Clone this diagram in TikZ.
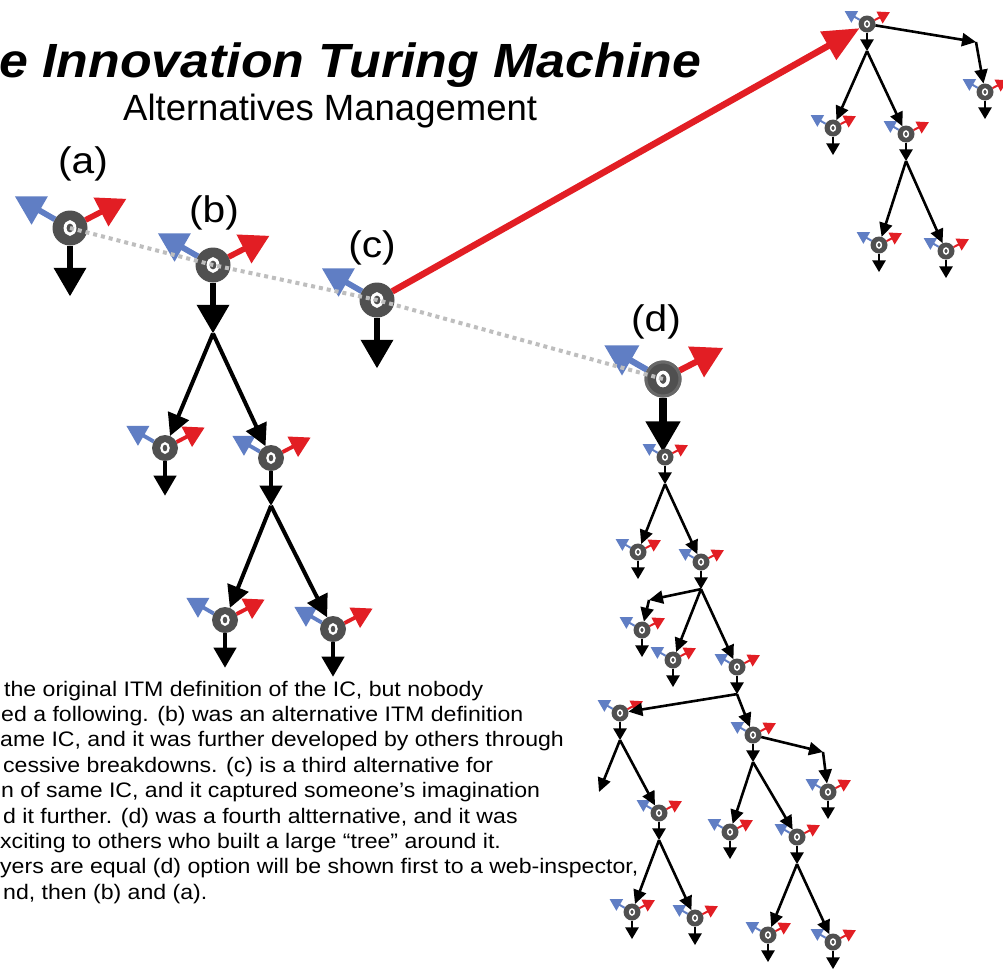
\documentclass[tikz,border=0pt]{standalone}
\usepackage{fontspec}
\setmainfont{Liberation Sans}
\usetikzlibrary{arrows.meta}
\definecolor{itmgray}{RGB}{80,80,80}
\definecolor{itmring}{RGB}{104,104,104}
\definecolor{itmblue}{RGB}{96,126,196}
\definecolor{itmred}{RGB}{226,30,36}
\definecolor{dotgray}{RGB}{190,190,190}
\newcommand\hs[1]{\scalebox{1.1}[1]{#1}}
\newcommand\itmbody[1]{%
  \pgfmathsetmacro\itmR{#1}%
  \pgfmathsetmacro\itmDiam{2*\itmR}%
  \pgfmathsetmacro\itmArm{4.2*\itmR-10}%
  \pgfmathsetmacro\itmDn{4.6*\itmR-12}%
  \pgfmathsetmacro\itmHL{1.9*\itmR-4.5}%
  \pgfmathsetmacro\itmHW{2.0*\itmR-4}%
  \pgfmathsetmacro\itmLD{0.5*\itmR-2}%
  \pgfmathsetmacro\itmLA{0.42*\itmR-1.6}%
  \pgfmathsetmacro\itmLO{0.17*\itmR}%
  \pgfmathsetmacro\itmOX{0.28*\itmR}%
  \pgfmathsetmacro\itmOY{0.36*\itmR}%
  \pgfmathsetmacro\itmBx{-0.87*\itmArm}%
  \pgfmathsetmacro\itmBy{-0.5*\itmArm}%
  \pgfmathsetmacro\itmRx{0.89*\itmArm}%
  \pgfmathsetmacro\itmRy{-0.46*\itmArm}%
  \node[itmcirc, minimum size=\itmDiam pt] (-c) at (0,0) {};
  \coordinate (-t) at (0,\itmDn);
  \coordinate (-bl) at (\itmBx,\itmBy);
  \coordinate (-rd) at (\itmRx,\itmRy);
  \draw[color=itmblue, line width=\itmLA pt, -{Triangle[length=\itmHL pt, width=\itmHW pt]}] (-c) -- (-bl);
  \draw[color=black, line width=\itmLD pt, -{Triangle[length=\itmHL pt, width=\itmHW pt]}] (-c) -- (-t);
  \draw[white, line width=\itmLO pt] (0,0) ellipse [x radius=\itmOX, y radius=\itmOY];
}
\newcommand\itmredarm{%
  \draw[color=itmred, line width=\itmLA pt, -{Triangle[length=\itmHL pt, width=\itmHW pt]}] (-c) -- (-rd);
}
\tikzset{
  itmcirc/.style={circle, fill=itmgray, inner sep=0pt, outer sep=0pt},
  pics/itm/.style={code={\itmbody{#1}\itmredarm}},
  pics/itmnr/.style={code={\itmbody{#1}}},
  tarL/.style={black, line width=4pt, -{Triangle[length=22pt, width=22pt]}},
  tarS/.style={black, line width=2.6pt, -{Triangle[length=14pt, width=13pt]}},
  bigred/.style={itmred, line width=6.5pt, -{Triangle[length=36pt, width=31pt]}},
  dotline/.style={dotgray, line width=4pt, dash pattern=on 4pt off 4pt},
  lab/.style={inner sep=0pt, font=\fontsize{37}{42}\selectfont},
  ptext/.style={anchor=base west, inner sep=0pt, font=\fontsize{21}{25.4}\selectfont},
}
\begin{document}
\begin{tikzpicture}[x=1pt, y=-1pt]
\useasboundingbox (0,0) rectangle (1003,969);
\clip (0,0) rectangle (1003,969);
\fill[white] (0,0) rectangle (1003,969);

% titles
\node[anchor=base west, inner sep=0pt, font=\fontsize{48}{54}\selectfont\bfseries\itshape] (title) at (-1,77) {\scalebox{1.08}[1]{e Innovation Turing Machine}};
\node[anchor=base west, inner sep=0pt, font=\fontsize{36.5}{42}\selectfont] (sub) at (123,120) {Alternatives Management};

% labels
\node[lab] (la) at (83,164) {\hs{(a)}};
\node[lab] (lb) at (214,213) {\hs{(b)}};
\node[lab] (lc) at (372,248) {\hs{(c)}};
\node[lab] (ld) at (656,322) {\hs{(d)}};

% main alternatives
\pic (a) at (70,228) {itm=17.5};
\pic (b) at (213,265) {itm=17.5};
\pic (c) at (377,300) {itmnr=17.5};
\pic (d) at (663,379) {itm=18.5};
\draw[itmring, line width=3pt] (d-c.center) circle (17);
\draw[white, line width=3.1pt] (d-c.center) ellipse [x radius=5.2, y radius=6.6];

% tree (b)
\pic (b1) at (165,448) {itm=13};
\pic (b2) at (271,458) {itm=13};
\pic (b21) at (225,620) {itm=13};
\pic (b22) at (333,629) {itm=13};
\draw[tarL] (b-t) -- (b1-c);
\draw[tarL] (b-t) -- (b2-c);
\draw[tarL] (b2-t) -- (b21-c);
\draw[tarL] (b2-t) -- (b22-c);

% top-right tree (c)
\pic (r) at (867,24) {itm=8.5};
\pic (rl) at (833,128) {itm=8.5};
\pic (rm) at (906,134) {itm=8.5};
\pic (rm1) at (879,245) {itm=8.5};
\pic (rm2) at (946,251) {itm=8.5};
\pic (rr) at (985,92) {itm=8.5};
\coordinate (k1) at (976,42);
\draw[tarS] (r-t) -- (rl-c);
\draw[tarS] (r-t) -- (rm-c);
\draw[tarS] (rm-t) -- (rm1-c);
\draw[tarS] (rm-t) -- (rm2-c);
\draw[tarS] (r-c) -- (k1);
\draw[tarS] (k1) -- (rr-c);

% tree (d)
\pic (d1) at (665,457) {itm=8.5};
\pic (d1L) at (638,552) {itm=8.5};
\pic (d1R) at (701,562) {itm=8.5};
\pic (d1R1) at (642,630) {itm=8.5};
\pic (d1R2) at (673,660) {itm=8.5};
\pic (d1R3) at (737,667) {itm=8.5};
\pic (d1R3a) at (620,713) {itm=8.5};
\pic (d1R3b) at (753,735) {itm=8.5};
\pic (d1R3c) at (828,792) {itm=8.5};
\pic (n1) at (659,813) {itm=8.5};
\pic (n11) at (632,912) {itm=8.5};
\pic (n12) at (695,918) {itm=8.5};
\pic (m1) at (730,832) {itm=8.5};
\pic (m2) at (797,837) {itm=8.5};
\pic (m21) at (768,935) {itm=8.5};
\pic (m22) at (833,942) {itm=8.5};
\coordinate (k2) at (649,600);
\coordinate (k3) at (599,792);
\coordinate (k4) at (823,752);
\draw[tarS] (d1-t) -- (d1L-c);
\draw[tarS] (d1-t) -- (d1R-c);
\draw[tarS] (d1R-t) -- (k2);
\draw[tarS] (k2) -- (d1R1-c);
\draw[tarS] (d1R-t) -- (d1R2-c);
\draw[tarS] (d1R-t) -- (d1R3-c);
\draw[tarS] (d1R3-t) -- (d1R3a-c);
\draw[tarS] (d1R3-t) -- (d1R3b-c);
\draw[tarS] (d1R3a-t) -- (k3);
\draw[tarS] (d1R3a-t) -- (n1-c);
\draw[tarS] (n1-t) -- (n11-c);
\draw[tarS] (n1-t) -- (n12-c);
\draw[tarS] (d1R3b-c) -- (k4);
\draw[tarS] (k4) -- (d1R3c-c);
\draw[tarS] (d1R3b-t) -- (m1-c);
\draw[tarS] (d1R3b-t) -- (m2-c);
\draw[tarS] (m2-t) -- (m21-c);
\draw[tarS] (m2-t) -- (m22-c);

% red link c -> top-right tree
\draw[bigred] (c-c) -- (r-c);

% dotted alternatives line
\draw[dotline] (a-c.center) -- (b-c.center) -- (c-c.center) -- (d-c.center);

% paragraph
\node[ptext] (p1) at (4,696) {\hs{the original ITM definition of the IC, but nobody}};
\node[ptext] (p2) at (1,721.4) {\hs{ed a following. (b) was an alternative ITM definition}};
\node[ptext] (p3) at (0,746.8) {\hs{ame IC, and it was further developed by others through}};
\node[ptext] (p4) at (3,772.2) {\hs{cessive breakdowns. (c) is a third alternative for}};
\node[ptext] (p5) at (1,797.6) {\hs{n of same IC, and it captured someone’s imagination}};
\node[ptext] (p6) at (3,823) {\hs{d it further. (d) was a fourth altternative, and it was}};
\node[ptext] (p7) at (0,848.4) {\hs{xciting to others who built a large “tree” around it.}};
\node[ptext] (p8) at (0,873.8) {\hs{yers are equal (d) option will be shown first to a web-inspector,}};
\node[ptext] (p9) at (3,899.2) {\hs{nd, then (b) and (a).}};
\end{tikzpicture}
\end{document}
